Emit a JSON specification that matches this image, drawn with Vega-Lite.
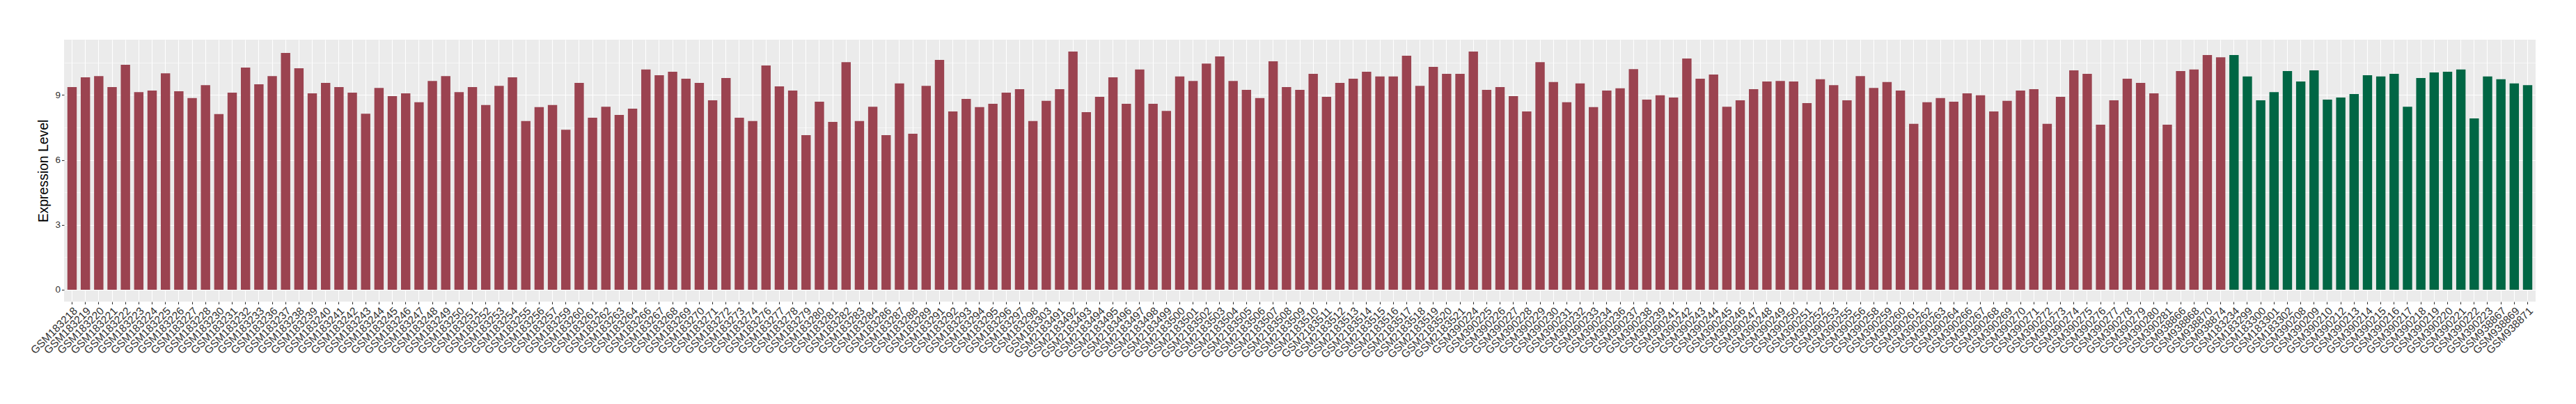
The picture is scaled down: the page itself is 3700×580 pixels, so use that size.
{
  "$schema": "https://vega.github.io/schema/vega-lite/v6.json",
  "autosize": {"type": "none"},
  "padding": {"left": 92, "top": 57, "right": 58, "bottom": 147},
  "width": 3550,
  "height": 376,
  "background": "white",
  "config": {
    "view": {"fill": "#EBEBEB", "stroke": null},
    "font": "Liberation Sans"
  },
  "data": {"values": [
    {"sample": "GSM183218", "value": 9.37, "group": "Group 1"},
    {"sample": "GSM183219", "value": 9.82, "group": "Group 1"},
    {"sample": "GSM183220", "value": 9.88, "group": "Group 1"},
    {"sample": "GSM183221", "value": 9.37, "group": "Group 1"},
    {"sample": "GSM183222", "value": 10.40, "group": "Group 1"},
    {"sample": "GSM183223", "value": 9.14, "group": "Group 1"},
    {"sample": "GSM183224", "value": 9.21, "group": "Group 1"},
    {"sample": "GSM183225", "value": 10.01, "group": "Group 1"},
    {"sample": "GSM183226", "value": 9.18, "group": "Group 1"},
    {"sample": "GSM183227", "value": 8.86, "group": "Group 1"},
    {"sample": "GSM183228", "value": 9.46, "group": "Group 1"},
    {"sample": "GSM183230", "value": 8.12, "group": "Group 1"},
    {"sample": "GSM183231", "value": 9.11, "group": "Group 1"},
    {"sample": "GSM183232", "value": 10.27, "group": "Group 1"},
    {"sample": "GSM183233", "value": 9.50, "group": "Group 1"},
    {"sample": "GSM183236", "value": 9.88, "group": "Group 1"},
    {"sample": "GSM183237", "value": 10.95, "group": "Group 1"},
    {"sample": "GSM183238", "value": 10.24, "group": "Group 1"},
    {"sample": "GSM183239", "value": 9.08, "group": "Group 1"},
    {"sample": "GSM183240", "value": 9.56, "group": "Group 1"},
    {"sample": "GSM183241", "value": 9.37, "group": "Group 1"},
    {"sample": "GSM183242", "value": 9.11, "group": "Group 1"},
    {"sample": "GSM183243", "value": 8.14, "group": "Group 1"},
    {"sample": "GSM183244", "value": 9.33, "group": "Group 1"},
    {"sample": "GSM183245", "value": 8.95, "group": "Group 1"},
    {"sample": "GSM183246", "value": 9.08, "group": "Group 1"},
    {"sample": "GSM183247", "value": 8.67, "group": "Group 1"},
    {"sample": "GSM183248", "value": 9.65, "group": "Group 1"},
    {"sample": "GSM183249", "value": 9.88, "group": "Group 1"},
    {"sample": "GSM183250", "value": 9.14, "group": "Group 1"},
    {"sample": "GSM183251", "value": 9.37, "group": "Group 1"},
    {"sample": "GSM183252", "value": 8.54, "group": "Group 1"},
    {"sample": "GSM183253", "value": 9.43, "group": "Group 1"},
    {"sample": "GSM183254", "value": 9.82, "group": "Group 1"},
    {"sample": "GSM183255", "value": 7.80, "group": "Group 1"},
    {"sample": "GSM183256", "value": 8.44, "group": "Group 1"},
    {"sample": "GSM183257", "value": 8.54, "group": "Group 1"},
    {"sample": "GSM183259", "value": 7.40, "group": "Group 1"},
    {"sample": "GSM183260", "value": 9.56, "group": "Group 1"},
    {"sample": "GSM183261", "value": 7.95, "group": "Group 1"},
    {"sample": "GSM183262", "value": 8.46, "group": "Group 1"},
    {"sample": "GSM183263", "value": 8.08, "group": "Group 1"},
    {"sample": "GSM183264", "value": 8.37, "group": "Group 1"},
    {"sample": "GSM183266", "value": 10.18, "group": "Group 1"},
    {"sample": "GSM183267", "value": 9.92, "group": "Group 1"},
    {"sample": "GSM183268", "value": 10.08, "group": "Group 1"},
    {"sample": "GSM183269", "value": 9.76, "group": "Group 1"},
    {"sample": "GSM183270", "value": 9.56, "group": "Group 1"},
    {"sample": "GSM183271", "value": 8.76, "group": "Group 1"},
    {"sample": "GSM183272", "value": 9.79, "group": "Group 1"},
    {"sample": "GSM183273", "value": 7.95, "group": "Group 1"},
    {"sample": "GSM183274", "value": 7.80, "group": "Group 1"},
    {"sample": "GSM183276", "value": 10.37, "group": "Group 1"},
    {"sample": "GSM183277", "value": 9.40, "group": "Group 1"},
    {"sample": "GSM183278", "value": 9.21, "group": "Group 1"},
    {"sample": "GSM183279", "value": 7.15, "group": "Group 1"},
    {"sample": "GSM183280", "value": 8.69, "group": "Group 1"},
    {"sample": "GSM183281", "value": 7.76, "group": "Group 1"},
    {"sample": "GSM183282", "value": 10.52, "group": "Group 1"},
    {"sample": "GSM183283", "value": 7.80, "group": "Group 1"},
    {"sample": "GSM183284", "value": 8.46, "group": "Group 1"},
    {"sample": "GSM183286", "value": 7.15, "group": "Group 1"},
    {"sample": "GSM183287", "value": 9.54, "group": "Group 1"},
    {"sample": "GSM183288", "value": 7.21, "group": "Group 1"},
    {"sample": "GSM183289", "value": 9.43, "group": "Group 1"},
    {"sample": "GSM183291", "value": 10.63, "group": "Group 1"},
    {"sample": "GSM183292", "value": 8.24, "group": "Group 1"},
    {"sample": "GSM183293", "value": 8.82, "group": "Group 1"},
    {"sample": "GSM183294", "value": 8.44, "group": "Group 1"},
    {"sample": "GSM183295", "value": 8.60, "group": "Group 1"},
    {"sample": "GSM183296", "value": 9.11, "group": "Group 1"},
    {"sample": "GSM183297", "value": 9.27, "group": "Group 1"},
    {"sample": "GSM183298", "value": 7.80, "group": "Group 1"},
    {"sample": "GSM183303", "value": 8.73, "group": "Group 1"},
    {"sample": "GSM2183491", "value": 9.27, "group": "Group 1"},
    {"sample": "GSM2183492", "value": 11.01, "group": "Group 1"},
    {"sample": "GSM2183493", "value": 8.21, "group": "Group 1"},
    {"sample": "GSM2183494", "value": 8.92, "group": "Group 1"},
    {"sample": "GSM2183495", "value": 9.82, "group": "Group 1"},
    {"sample": "GSM2183496", "value": 8.60, "group": "Group 1"},
    {"sample": "GSM2183497", "value": 10.18, "group": "Group 1"},
    {"sample": "GSM2183498", "value": 8.60, "group": "Group 1"},
    {"sample": "GSM2183499", "value": 8.27, "group": "Group 1"},
    {"sample": "GSM2183500", "value": 9.86, "group": "Group 1"},
    {"sample": "GSM2183501", "value": 9.65, "group": "Group 1"},
    {"sample": "GSM2183502", "value": 10.46, "group": "Group 1"},
    {"sample": "GSM2183503", "value": 10.79, "group": "Group 1"},
    {"sample": "GSM2183504", "value": 9.65, "group": "Group 1"},
    {"sample": "GSM2183505", "value": 9.24, "group": "Group 1"},
    {"sample": "GSM2183506", "value": 8.86, "group": "Group 1"},
    {"sample": "GSM2183507", "value": 10.56, "group": "Group 1"},
    {"sample": "GSM2183508", "value": 9.37, "group": "Group 1"},
    {"sample": "GSM2183509", "value": 9.24, "group": "Group 1"},
    {"sample": "GSM2183510", "value": 9.98, "group": "Group 1"},
    {"sample": "GSM2183511", "value": 8.92, "group": "Group 1"},
    {"sample": "GSM2183512", "value": 9.56, "group": "Group 1"},
    {"sample": "GSM2183513", "value": 9.76, "group": "Group 1"},
    {"sample": "GSM2183514", "value": 10.08, "group": "Group 1"},
    {"sample": "GSM2183515", "value": 9.86, "group": "Group 1"},
    {"sample": "GSM2183516", "value": 9.86, "group": "Group 1"},
    {"sample": "GSM2183517", "value": 10.82, "group": "Group 1"},
    {"sample": "GSM2183518", "value": 9.43, "group": "Group 1"},
    {"sample": "GSM2183519", "value": 10.30, "group": "Group 1"},
    {"sample": "GSM2183520", "value": 9.98, "group": "Group 1"},
    {"sample": "GSM2183521", "value": 9.98, "group": "Group 1"},
    {"sample": "GSM390224", "value": 11.01, "group": "Group 1"},
    {"sample": "GSM390225", "value": 9.24, "group": "Group 1"},
    {"sample": "GSM390226", "value": 9.37, "group": "Group 1"},
    {"sample": "GSM390227", "value": 8.95, "group": "Group 1"},
    {"sample": "GSM390228", "value": 8.24, "group": "Group 1"},
    {"sample": "GSM390229", "value": 10.52, "group": "Group 1"},
    {"sample": "GSM390230", "value": 9.60, "group": "Group 1"},
    {"sample": "GSM390231", "value": 8.67, "group": "Group 1"},
    {"sample": "GSM390232", "value": 9.54, "group": "Group 1"},
    {"sample": "GSM390233", "value": 8.44, "group": "Group 1"},
    {"sample": "GSM390234", "value": 9.21, "group": "Group 1"},
    {"sample": "GSM390236", "value": 9.31, "group": "Group 1"},
    {"sample": "GSM390237", "value": 10.20, "group": "Group 1"},
    {"sample": "GSM390238", "value": 8.79, "group": "Group 1"},
    {"sample": "GSM390239", "value": 8.99, "group": "Group 1"},
    {"sample": "GSM390241", "value": 8.89, "group": "Group 1"},
    {"sample": "GSM390242", "value": 10.69, "group": "Group 1"},
    {"sample": "GSM390243", "value": 9.76, "group": "Group 1"},
    {"sample": "GSM390244", "value": 9.95, "group": "Group 1"},
    {"sample": "GSM390245", "value": 8.46, "group": "Group 1"},
    {"sample": "GSM390246", "value": 8.76, "group": "Group 1"},
    {"sample": "GSM390247", "value": 9.27, "group": "Group 1"},
    {"sample": "GSM390248", "value": 9.63, "group": "Group 1"},
    {"sample": "GSM390249", "value": 9.65, "group": "Group 1"},
    {"sample": "GSM390250", "value": 9.63, "group": "Group 1"},
    {"sample": "GSM390251", "value": 8.63, "group": "Group 1"},
    {"sample": "GSM390252", "value": 9.73, "group": "Group 1"},
    {"sample": "GSM390253", "value": 9.46, "group": "Group 1"},
    {"sample": "GSM390255", "value": 8.76, "group": "Group 1"},
    {"sample": "GSM390256", "value": 9.88, "group": "Group 1"},
    {"sample": "GSM390258", "value": 9.33, "group": "Group 1"},
    {"sample": "GSM390259", "value": 9.60, "group": "Group 1"},
    {"sample": "GSM390260", "value": 9.21, "group": "Group 1"},
    {"sample": "GSM390261", "value": 7.67, "group": "Group 1"},
    {"sample": "GSM390262", "value": 8.67, "group": "Group 1"},
    {"sample": "GSM390263", "value": 8.86, "group": "Group 1"},
    {"sample": "GSM390264", "value": 8.69, "group": "Group 1"},
    {"sample": "GSM390266", "value": 9.08, "group": "Group 1"},
    {"sample": "GSM390267", "value": 8.99, "group": "Group 1"},
    {"sample": "GSM390268", "value": 8.24, "group": "Group 1"},
    {"sample": "GSM390269", "value": 8.73, "group": "Group 1"},
    {"sample": "GSM390270", "value": 9.21, "group": "Group 1"},
    {"sample": "GSM390271", "value": 9.27, "group": "Group 1"},
    {"sample": "GSM390272", "value": 7.67, "group": "Group 1"},
    {"sample": "GSM390273", "value": 8.92, "group": "Group 1"},
    {"sample": "GSM390274", "value": 10.14, "group": "Group 1"},
    {"sample": "GSM390275", "value": 9.98, "group": "Group 1"},
    {"sample": "GSM390276", "value": 7.63, "group": "Group 1"},
    {"sample": "GSM390277", "value": 8.76, "group": "Group 1"},
    {"sample": "GSM390278", "value": 9.76, "group": "Group 1"},
    {"sample": "GSM390279", "value": 9.56, "group": "Group 1"},
    {"sample": "GSM390280", "value": 9.08, "group": "Group 1"},
    {"sample": "GSM390281", "value": 7.63, "group": "Group 1"},
    {"sample": "GSM938866", "value": 10.11, "group": "Group 1"},
    {"sample": "GSM938868", "value": 10.18, "group": "Group 1"},
    {"sample": "GSM938870", "value": 10.85, "group": "Group 1"},
    {"sample": "GSM938874", "value": 10.75, "group": "Group 1"},
    {"sample": "GSM183234", "value": 10.85, "group": "Group 2"},
    {"sample": "GSM183299", "value": 9.86, "group": "Group 2"},
    {"sample": "GSM183300", "value": 8.76, "group": "Group 2"},
    {"sample": "GSM183301", "value": 9.14, "group": "Group 2"},
    {"sample": "GSM183302", "value": 10.11, "group": "Group 2"},
    {"sample": "GSM390208", "value": 9.63, "group": "Group 2"},
    {"sample": "GSM390209", "value": 10.14, "group": "Group 2"},
    {"sample": "GSM390210", "value": 8.79, "group": "Group 2"},
    {"sample": "GSM390212", "value": 8.89, "group": "Group 2"},
    {"sample": "GSM390213", "value": 9.05, "group": "Group 2"},
    {"sample": "GSM390214", "value": 9.92, "group": "Group 2"},
    {"sample": "GSM390215", "value": 9.86, "group": "Group 2"},
    {"sample": "GSM390216", "value": 9.98, "group": "Group 2"},
    {"sample": "GSM390217", "value": 8.46, "group": "Group 2"},
    {"sample": "GSM390218", "value": 9.79, "group": "Group 2"},
    {"sample": "GSM390219", "value": 10.05, "group": "Group 2"},
    {"sample": "GSM390220", "value": 10.08, "group": "Group 2"},
    {"sample": "GSM390221", "value": 10.18, "group": "Group 2"},
    {"sample": "GSM390222", "value": 7.92, "group": "Group 2"},
    {"sample": "GSM390223", "value": 9.86, "group": "Group 2"},
    {"sample": "GSM938867", "value": 9.73, "group": "Group 2"},
    {"sample": "GSM938869", "value": 9.54, "group": "Group 2"},
    {"sample": "GSM938871", "value": 9.46, "group": "Group 2"}
  ]},
  "mark": {"type": "bar"},
  "encoding": {
    "x": {
      "field": "sample", "type": "nominal", "sort": null,
      "scale": {"paddingInner": 0.3, "paddingOuter": 0.25},
      "axis": {
        "title": null,
        "bandPosition": 0.5,
        "domain": false,
        "grid": true, "gridColor": "white", "gridWidth": 1.1,
        "ticks": true, "tickColor": "#333333", "tickSize": 3.5, "tickWidth": 1.1,
        "labelAngle": -45, "labelAlign": "right", "labelBaseline": "top",
        "labelFont": "Liberation Sans", "labelFontSize": 15.5, "labelColor": "#333333",
        "labelPadding": 2, "labelOverlap": false, "labelFlush": false, "labelBound": false
      }
    },
    "y": {
      "field": "value", "type": "quantitative",
      "scale": {"domain": [-0.55, 11.56], "nice": false, "zero": false},
      "axis": {
        "title": "Expression Level",
        "titleFont": "Liberation Sans", "titleFontSize": 19.4, "titleFontWeight": "normal", "titleColor": "black",
        "titlePadding": 6,
        "values": [0, 1.5, 3, 4.5, 6, 7.5, 9, 10.5],
        "labelExpr": "datum.value % 3 === 0 ? datum.label : ''",
        "domain": false,
        "grid": true, "gridColor": "white",
        "gridWidth": {"condition": {"test": "datum.value % 3 === 0", "value": 1.1}, "value": 0.55},
        "tickColor": "#333333", "tickSize": 3.5, "tickWidth": 1.1,
        "tickOpacity": {"condition": {"test": "datum.value % 3 === 0", "value": 1}, "value": 0},
        "labelFont": "Liberation Sans", "labelFontSize": 13.5, "labelColor": "#333333", "labelPadding": 2
      }
    },
    "color": {
      "field": "group", "type": "nominal",
      "scale": {"domain": ["Group 1", "Group 2"], "range": ["#9B4350", "#006644"]},
      "legend": null
    }
  }
}
